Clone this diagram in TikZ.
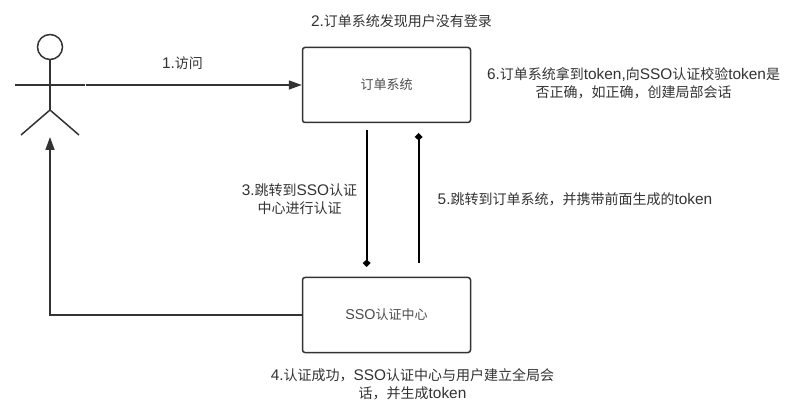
\documentclass[tikz,border=0pt]{standalone}
\usepackage{fontspec}
\setmainfont{Noto Sans CJK SC}
\newfontfamily\lat[Scale=1.1]{Liberation Sans}
\newcommand{\La}[1]{{\lat #1}}
\usetikzlibrary{arrows.meta}
\definecolor{ink}{HTML}{333333}
\tikzset{
 sysbox/.style={draw=ink,line width=1.5pt,rounded corners=2.5pt,minimum width=168pt,minimum height=75pt,font=\fontsize{13}{16}\selectfont,text=black!70},
 lbl/.style={font=\fontsize{14}{18}\selectfont,text=ink,align=center,inner sep=0pt},
 conn/.style={draw=ink,line width=1.5pt,-{Triangle[length=13pt,width=9pt]}},
 small/.style={draw=black,line width=1.8pt,-{Kite[length=7.5pt,width=8pt,inset=3.5pt]}},
 figure/.style={draw=ink,line width=1.5pt}
}
\begin{document}
\begin{tikzpicture}[x=1pt,y=-1pt]
\useasboundingbox (0,0) rectangle (805,419);
\fill[white] (0,0) rectangle (805,419);
\node[sysbox] (order) at (386.5,85) {订单系统};
\node[sysbox] (sso) at (386.5,315) {\La{SSO}认证中心};
\coordinate (hand) at (86,85);
\coordinate (foot) at (50,137);
\coordinate (a3s) at (366.7,130);
\coordinate (a3e) at (366.7,267);
\coordinate (a5s) at (418.7,263);
\coordinate (a5e) at (418.7,133);
\draw[figure] (50,47) circle (12.5);
\draw[figure] (50,59.5) -- (50,110);
\draw[figure] (15,85) -- (85,85);
\draw[figure] (50,110) -- (21,135);
\draw[figure] (50,110) -- (79,135);
\draw[conn] (hand) -- (order.west);
\draw[small] (a3s) -- (a3e);
\draw[small] (a5s) -- (a5e);
\draw[conn] (sso.west) -| (foot);
\node[lbl] (l1) at (182.5,63) {\La{1.}访问};
\node[lbl] (l2) at (401.5,21) {\La{2.}订单系统发现用户没有登录};
\node[lbl] (l3) at (299.5,199) {\La{3.}跳转到\La{SSO}认证\\中心进行认证};
\node[lbl] (l4) at (412.5,384) {\La{4.}认证成功，\La{SSO}认证中心与用户建立全局会\\话，并生成\La{token}};
\node[lbl] (l5) at (575,199) {\La{5.}跳转到订单系统，并携带前面生成的\La{token}};
\node[lbl] (l6) at (633.5,83) {\La{6.}订单系统拿到\La{token,}向\La{SSO}认证校验\La{token}是\\否正确，如正确，创建局部会话};
\end{tikzpicture}
\end{document}
